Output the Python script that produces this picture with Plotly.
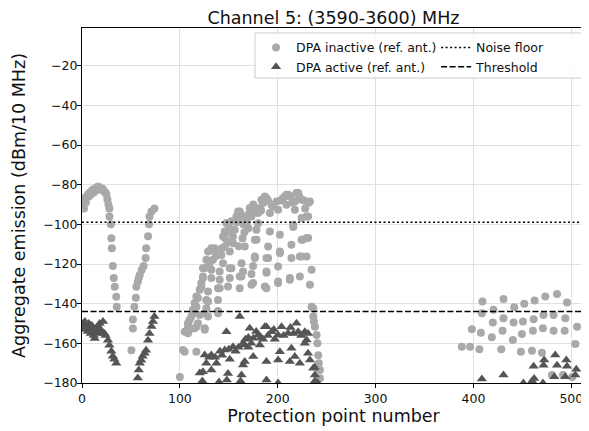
import plotly.graph_objects as go

# ---------------- data ----------------
inactive_x = [
    1, 2, 1, 3, 4, 5, 6, 7, 8, 9, 10, 11, 12, 13, 14, 15, 16, 17, 18, 19, 20,
    21, 22, 23, 24, 25, 26, 27, 28, 28, 29.5, 30, 30.5, 31.5, 32.5, 33.5, 35, 35.5,
    50.5, 52, 52, 53.5, 55, 55.5, 57, 58, 59, 61, 63, 65, 65.5, 67.5, 68.5, 69, 71, 74,
    100,
    104.9, 116.9, 103.2, 104.9, 108.3, 108.3, 110, 108.3, 110, 111.8, 113.4, 113.4,
    115.1, 116.9, 116.9, 118.5, 120.3, 122, 122, 123.6, 123.6, 123.6, 125.4, 127.1,
    128.8, 132.2, 135.6, 135.6, 133.9, 144.1, 147.6, 152.7, 159.5, 161.2, 157.8,
    145.9, 156.1, 168.1, 145.9, 154.3, 166, 145.9, 154.3, 166.3, 142.5, 151, 144.1,
    132.2, 140.7, 151, 152.7, 163, 164.6, 132.2, 140.7, 151, 161.2, 162.9, 139,
    149.2, 161.2, 128.8, 140.7, 127.1, 139, 128.8, 127.1, 139, 139, 125.4, 120.3,
    128.8, 118.5, 115.1, 116.9, 125.4, 125.4,
    173.2, 171.4, 173.2, 168.1, 181.7, 183.4, 185.1, 186.8, 186.8, 188.5, 180, 180,
    193.7, 198.8, 192, 200.4, 207.3, 209, 210.7, 219.2, 220.9, 217.5, 224.4, 231.1,
    232.9, 209, 217.5, 215.8, 215.8, 231.1, 229.5, 224.4, 192, 178.3, 178.3, 176.6,
    190.2, 202.2, 214, 224.4, 226, 229.5, 231.1, 176.6, 176.6, 190.2, 188.5, 202.2,
    202.2, 214, 222.6, 224.4, 229.5, 174.8, 173.2, 188.5, 188.5, 200.4, 212.4, 212.4,
    222.6, 234.6, 174.8, 173.2, 186.8, 188.5, 200.4, 200.4, 232.9,
    163, 165, 170, 175, 177, 183, 190, 195, 203, 205, 213, 215, 222, 227, 228,
    150, 152, 158, 160, 149, 143, 137, 130, 160, 164, 170,
    234.6, 236.3, 236.3, 237, 238, 239.7, 240.5, 241.4, 242, 243.1, 243.1,
    388.1, 396.6, 406.1, 398.4, 407.6, 409.2, 408.6, 418.8, 419.8, 420.5, 428.4,
    429.7, 430.7, 430.7, 440.3, 441, 441.7, 448.5, 449.5, 450.6, 451.9, 459.8,
    460.8, 461.5, 462.5, 470, 471, 471.6, 473.4, 481.9, 481.9, 485.4, 480.2,
    493.2, 493.9, 495.6, 491.5, 504.1, 505.9, 501,
]
inactive_y = [
    -90, -92, -87, -88, -89, -86, -85, -86, -84, -85, -83, -82.5, -84, -82, -83, -81.5, -81, -81, -81.5, -82, -82.5,
    -82, -83, -83.5, -84, -85, -87.5, -90, -92, -96, -100, -107, -112, -121, -127, -131.5, -136.5, -141.5,
    -163.5, -152.5, -148, -141.5, -137, -131.5, -129, -127, -125.5, -123, -121, -117, -112, -106, -100, -96, -93.5, -92,
    -177,
    -164.2, -164.2, -163.3, -154.1, -154.9, -151.6, -153.2, -149.9, -148.2, -146.5, -144.8, -143.1,
    -139.7, -141.5, -136.4, -137.2, -133, -129.6, -131.4, -126.3, -127.1, -122.1, -122.1, -117.9,
    -113.7, -112, -112, -113.7, -117.9, -106.1, -99.3, -98.5, -93.5, -93.5, -96,
    -103.6, -102.7, -97.7, -106.9, -106.1, -104, -111.2, -109.5, -111.2, -115.4, -113.7, -119.6,
    -122.9, -123.8, -122.1, -122.1, -119.6, -123.8, -127.1, -128, -127.1, -126.3, -126.3, -132.2,
    -131.4, -132.2, -133.9, -132.2, -138.1, -138.1, -138.9, -142.3, -143.7, -144.8, -144.8, -145.7,
    -146.5, -149.9, -152.4, -151.6, -152.4, -153.2,
    -93.5, -91.8, -96, -99.4, -91.8, -87.6, -89.3, -87.6, -86, -86.8, -94.3, -99.4,
    -90.1, -88.5, -94.3, -92.6, -85.9, -85.1, -85.1, -84.2, -84.2, -88.5, -87.6, -89.3,
    -88.5, -90.1, -92.6, -100.2, -101.3, -96, -96, -96.8, -103.6, -102.7, -107.8, -107.8,
    -111.2, -105.2, -110.3, -107.8, -107.7, -106.9, -106.9, -116.2, -117, -117, -117, -114.5,
    -113.7, -117, -116.2, -116.2, -116.2, -121, -125, -124.4, -123.8, -121.3, -127.1, -128,
    -126.3, -122.9, -129.6, -130.5, -131.4, -132.2, -128.8, -129.6, -130.5,
    -95.5, -100, -95, -90, -93, -93, -88, -91, -88, -87, -86, -89, -86, -88, -92,
    -101, -104, -99, -97, -109, -112, -116, -120, -111, -107, -102,
    -141.5, -142.3, -146.5, -149, -151.6, -155.8, -160, -166, -170, -173.4, -177.6,
    -161.7, -161.7, -163, -152.9, -154.6, -138.9, -144.8, -156.9, -149.5, -143.1, -163,
    -153.6, -147.3, -137.7, -158.3, -149.5, -141.8, -164.2, -155.3, -149, -140.1, -163.7,
    -153.6, -147.8, -138.4, -164.7, -152.4, -145.7, -136.4, -153.6, -145.7, -135.1, -176,
    -153.6, -147.3, -139.4, -176, -160.3, -151.6, -177,
]

active_x = [
    1, 2, 3, 4, 5, 6, 7, 8, 9, 10, 11, 12, 13, 14, 15, 16, 17, 18, 19, 20,
    21.5, 23, 24, 26.5, 28, 30, 31.5, 33, 35,
    57, 58, 59, 60.5, 62, 64, 65.5, 67.5, 69, 71, 72.5, 74,
    120.3, 123.6, 123, 125.4, 127, 130, 132.2, 132.2, 136, 137.4, 140, 141, 143,
    145.9, 147.6, 148, 149.2, 150, 151, 154.3, 157, 160, 161.2, 162, 163, 164.6,
    164.6, 166.3, 166.3, 167, 170, 170, 171.4, 173, 175, 175, 178, 180, 181.7, 183,
    185, 186.8, 188.5, 188.5, 188.5, 190, 193.7, 196, 197, 200.4, 200.4, 200.4,
    202.2, 203.9, 206, 210.6, 212.4, 213, 214, 216, 217.5, 219.2, 220.9, 222.6, 224,
    227.7, 227.7, 229.5, 231, 231, 232.9, 236.3, 237.6, 238, 238, 241,
    408.6, 430.7, 451, 460, 461.5, 462, 471, 471.6, 472.3, 482.6, 483.6, 485.4,
    493.9, 494.9, 495.6, 504, 505.1,
]
active_y = [
    -150, -152, -149, -153, -151, -154, -150, -152, -155, -151, -153, -156, -157.5, -154, -152, -155, -152, -150, -153, -154,
    -149, -155, -156, -158.5, -161, -164, -166.5, -168, -170,
    -177.5, -173.5, -170, -168.5, -166.5, -165, -163.5, -158.5, -155, -151.5, -149, -146.5,
    -175, -174.3, -179, -165.9, -170, -167, -165.9, -173.4, -167, -170, -179.5, -164, -166,
    -163.3, -154.1, -178.5, -175.2, -163, -168, -161.7, -164, -162, -146.5, -179, -176, -160,
    -170.9, -160.8, -169.2, -158, -157, -162, -152.4, -160, -157.4, -166.7, -154, -155.8, -160.8, -157,
    -158, -151.6, -151.6, -169.2, -178.5, -156, -154.1, -153, -158, -155.8, -168.4, -180,
    -164.2, -151.6, -156, -154.9, -169.2, -152, -162.5, -155, -166.7, -149.9, -154.1, -170, -156,
    -154.1, -160, -158.3, -155, -165, -168.4, -172.6, -172, -176, -179, -180,
    -178, -176, -180, -179, -171.5, -177.7, -180, -171, -168.4, -176.8, -165.9, -171,
    -176.8, -168.4, -171.5, -176, -173.1,
]

noise_floor = -99      # dBm/10 MHz
threshold = -144       # dBm/10 MHz
x_range = [0, 514]
y_range = [-180, -1]
x_ticks = [0, 100, 200, 300, 400, 500]
y_ticks = [-180, -160, -140, -120, -100, -80, -60, -40, -20]

FONT = "DejaVu Sans"

fig = go.Figure()
fig.add_trace(go.Scatter(
    x=inactive_x, y=inactive_y, mode="markers", name="DPA inactive (ref. ant.)",
    marker=dict(symbol="circle", size=8, color="#a9a9a9", line=dict(width=0)),
    legend="legend"))
fig.add_trace(go.Scatter(
    x=active_x, y=active_y, mode="markers", name="DPA active (ref. ant.)",
    marker=dict(symbol="triangle-up", size=9, color="#555555", line=dict(width=0)),
    legend="legend"))
fig.add_trace(go.Scatter(
    x=x_range, y=[noise_floor, noise_floor], mode="lines", name="Noise floor",
    line=dict(color="black", width=1.5, dash="2px,2.5px"), legend="legend2"))
fig.add_trace(go.Scatter(
    x=x_range, y=[threshold, threshold], mode="lines", name="Threshold",
    line=dict(color="black", width=1.5, dash="6px,2.5px"), legend="legend2"))

axis_common = dict(
    showline=True, linecolor="black", linewidth=1, mirror=True,
    ticks="outside", ticklen=4, tickcolor="black", tickwidth=1,
    showgrid=True, gridcolor="#e0e0e0", gridwidth=1, zeroline=False,
    tickfont=dict(family=FONT, size=12.5, color="#111"),
)

# the page body has an 8px margin, so the figure is sized 8px smaller
# on each axis and the left/top margins are reduced by 8px accordingly
fig.update_layout(
    width=581, height=423, autosize=False,
    margin=dict(l=74, r=4, t=20, b=48),
    paper_bgcolor="white", plot_bgcolor="white",
    font=dict(family=FONT, color="#111"),
    title=dict(text="Channel 5: (3590-3600) MHz", x=0.5, xref="paper", xanchor="center",
               y=1 - 10 / 423, yref="container", yanchor="middle",
               font=dict(family=FONT, size=17.5, color="#111")),
    xaxis=dict(range=x_range, tickvals=x_ticks, **axis_common,
               title=dict(text="Protection point number", standoff=4,
                          font=dict(family=FONT, size=17.5, color="#111"))),
    yaxis=dict(range=y_range, tickvals=y_ticks, ticklabelstandoff=-3, **axis_common,
               title=dict(text="Aggregate emission (dBm/10 MHz)", standoff=13,
                          font=dict(family=FONT, size=17.5, color="#111"))),
    legend=dict(x=0.346, xanchor="left", y=0.986, yanchor="top",
                bgcolor="rgba(0,0,0,0)", borderwidth=0,
                font=dict(family=FONT, size=12.5, color="#111")),
    legend2=dict(x=0.704, xanchor="left", y=0.986, yanchor="top",
                 bgcolor="rgba(0,0,0,0)", borderwidth=0,
                 font=dict(family=FONT, size=12.5, color="#111")),
    shapes=[dict(type="rect", xref="paper", yref="paper",
                 x0=0.344, x1=0.996, y0=0.859, y1=0.986,
                 fillcolor="rgba(255,255,255,0.85)",
                 line=dict(color="#cccccc", width=1), layer="above")],
)

fig.write_html("out.html")
